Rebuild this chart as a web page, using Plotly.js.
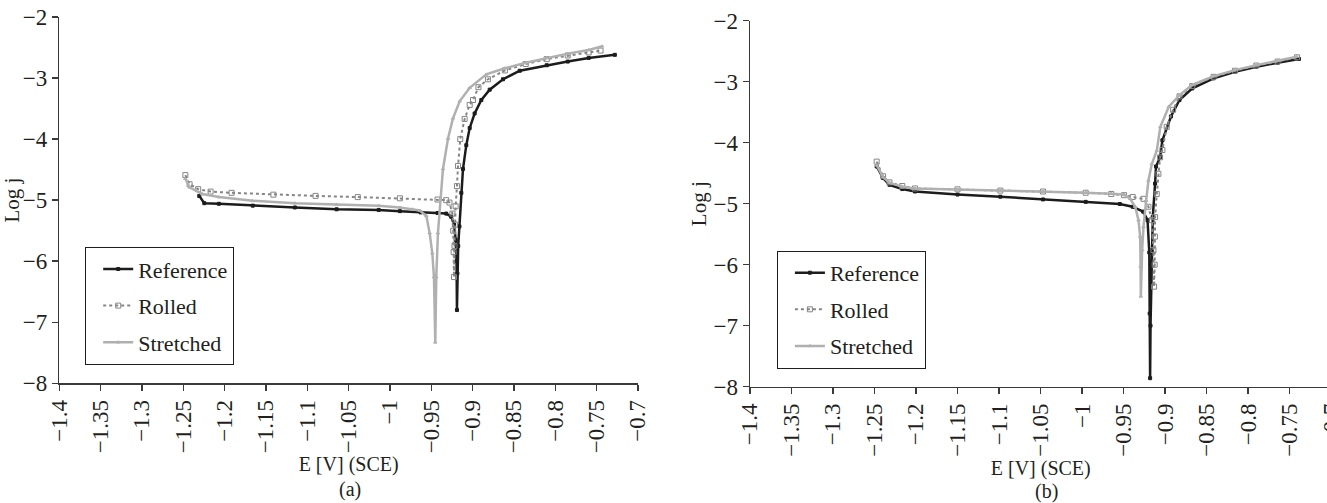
<!DOCTYPE html>
<html>
<head>
<meta charset="utf-8">
<script src="https://cdn.plot.ly/plotly-3.0.1.min.js"></script>
<style>
html, body { margin: 0; padding: 0; overflow: hidden; background: #fff; }
#chart { width: 1332px; height: 503px; }
</style>
</head>
<body>
<div id="chart"></div>
<script>
// ---------- Data (E in V vs SCE, log j) ----------
const seriesNames = ["Reference", "Rolled", "Stretched"];
const xTickTitle = "E [V] (SCE)";
const yTickTitle = "Log j";
const panelLabels = ["(a)", "(b)"];

// Panel (a)
const aRefE = [-1.2307, -1.2246, -1.207, -1.166, -1.115, -1.0645, -1.0137, -0.988, -0.963, -0.9425, -0.932, -0.926, -0.9225, -0.9205, -0.9195, -0.919,
  -0.9185, -0.9175, -0.916, -0.9137, -0.9117, -0.9077, -0.9036, -0.8976, -0.8895, -0.8794, -0.8633, -0.843, -0.8104, -0.785, -0.7596, -0.728];
const aRefJ = [-4.93, -5.05, -5.06, -5.09, -5.12, -5.15, -5.16, -5.18, -5.20, -5.21, -5.22, -5.27, -5.40, -5.65, -6.00, -6.80,
  -6.20, -5.75, -5.43, -4.88, -4.49, -4.10, -3.82, -3.58, -3.36, -3.19, -3.02, -2.88, -2.79, -2.73, -2.67, -2.62];

const aRolE = [-1.2475, -1.2424, -1.232, -1.217, -1.1916, -1.141, -1.09, -1.039, -0.988, -0.9425, -0.932, -0.928, -0.9245, -0.9235, -0.923, -0.9226,
  -0.922, -0.9215, -0.9206, -0.919, -0.9177, -0.915, -0.9097, -0.9036, -0.8996, -0.893, -0.8815, -0.861, -0.8358, -0.8104, -0.785, -0.7596, -0.7453];
const aRolJ = [-4.59, -4.74, -4.82, -4.86, -4.88, -4.91, -4.93, -4.95, -4.97, -4.99, -5.00, -5.04, -5.22, -5.50, -5.85, -6.26,
  -5.75, -5.40, -5.10, -4.77, -4.44, -4.00, -3.67, -3.44, -3.36, -3.15, -3.02, -2.875, -2.77, -2.69, -2.63, -2.58, -2.55];

const aStrE = [-1.2475, -1.2424, -1.227, -1.207, -1.166, -1.115, -1.0645, -1.0137, -0.988, -0.973, -0.964, -0.956, -0.952, -0.9488, -0.9468, -0.9452,
  -0.944, -0.942, -0.9391, -0.9359, -0.9298, -0.9238, -0.9157, -0.9036, -0.8835, -0.861, -0.8358, -0.8104, -0.785, -0.7596, -0.7433];
const aStrJ = [-4.65, -4.79, -4.90, -4.95, -5.01, -5.05, -5.07, -5.09, -5.12, -5.15, -5.17, -5.26, -5.54, -5.87, -6.26, -7.33,
  -6.26, -5.54, -4.99, -4.49, -3.99, -3.66, -3.38, -3.16, -2.94, -2.84, -2.75, -2.67, -2.60, -2.54, -2.48];

// Panel (b)
const bRefE = [-1.2474, -1.2397, -1.232, -1.2166, -1.2012, -1.15, -1.0984, -1.047, -0.9956, -0.9545, -0.939, -0.9263, -0.9211, -0.919, -0.9185, -0.918,
  -0.9175, -0.916, -0.9148, -0.912, -0.9109, -0.906, -0.9032, -0.8929, -0.8826, -0.8672, -0.8415, -0.8158, -0.79, -0.7644, -0.7387];
const bRefJ = [-4.39, -4.58, -4.69, -4.76, -4.80, -4.85, -4.885, -4.93, -4.97, -5.005, -5.05, -5.13, -5.27, -5.80, -6.80, -7.86,
  -7.00, -5.76, -5.22, -4.67, -4.39, -4.24, -3.96, -3.57, -3.30, -3.11, -2.945, -2.836, -2.754, -2.689, -2.628];

const bRolE = [-1.2474, -1.2397, -1.232, -1.2166, -1.2012, -1.15, -1.0984, -1.047, -0.9956, -0.9648, -0.9494, -0.939, -0.926, -0.92, -0.916, -0.914, -0.9132,
  -0.9125, -0.9122, -0.912, -0.91, -0.908, -0.906, -0.9032, -0.898, -0.8903, -0.8826, -0.8672, -0.8415, -0.8158, -0.79, -0.7644, -0.741];
const bRolJ = [-4.31, -4.55, -4.65, -4.71, -4.75, -4.765, -4.785, -4.80, -4.82, -4.84, -4.86, -4.89, -4.92, -5.05, -5.27, -5.76, -6.36,
  -6.00, -5.54, -5.22, -4.84, -4.51, -4.24, -4.12, -3.74, -3.46, -3.24, -3.07, -2.92, -2.82, -2.735, -2.67, -2.60];

const bStrE = [-1.2474, -1.2397, -1.232, -1.2166, -1.2012, -1.15, -1.0984, -1.047, -0.9956, -0.9648, -0.9494, -0.942, -0.936, -0.932, -0.93, -0.9295, -0.9292,
  -0.9276, -0.926, -0.9228, -0.92, -0.916, -0.91, -0.9057, -0.8955, -0.8826, -0.8672, -0.8415, -0.8158, -0.79, -0.7644, -0.7413];
const bStrJ = [-4.37, -4.56, -4.66, -4.72, -4.75, -4.765, -4.785, -4.80, -4.82, -4.835, -4.85, -4.92, -5.05, -5.27, -5.54, -6.03, -6.52,
  -5.76, -5.38, -4.95, -4.62, -4.35, -4.13, -3.74, -3.41, -3.22, -3.05, -2.91, -2.81, -2.73, -2.66, -2.59];

// ---------- Styling ----------
const FONT = "Liberation Serif, Times New Roman, serif";
const TXT = "#231f20";
const AX = "#3a3a3a";
const styles = [
  { color: "#1c1c1c", dash: "solid", symbol: "square", size: 3, width: 2.5 },
  { color: "#858585", dash: "dot", symbol: "square-open", size: 5, width: 2 },
  { color: "#b0b0b0", dash: "solid", symbol: "triangle-up", size: 3, width: 2.5 }
];

function mk(x, y, i, xa, ya, legend) {
  const s = styles[i];
  return {
    type: "scatter", mode: "lines+markers", x: x, y: y,
    name: seriesNames[i], xaxis: xa, yaxis: ya, legend: legend,
    legendgroup: legend + i, showlegend: true,
    line: { color: s.color, dash: s.dash, width: s.width },
    marker: { symbol: s.symbol, size: s.size, color: s.color, line: { color: s.color, width: 1 } }
  };
}

const traces = [
  mk(aRefE, aRefJ, 0, "x", "y", "legend"),
  mk(aRolE, aRolJ, 1, "x", "y", "legend"),
  mk(aStrE, aStrJ, 2, "x", "y", "legend"),
  mk(bRefE, bRefJ, 0, "x2", "y2", "legend2"),
  mk(bRolE, bRolJ, 1, "x2", "y2", "legend2"),
  mk(bStrE, bStrJ, 2, "x2", "y2", "legend2")
];

const W = 1332, H = 503;
function xa(l, r, rmax, title) {
  return {
    domain: [l / W, r / W], range: [-1.4, rmax], tick0: -1.4, dtick: 0.05,
    tickangle: -90, ticks: "outside", ticklen: 6, tickwidth: 1.5, tickcolor: AX,
    ticklabeloverflow: "allow",
    showline: true, linecolor: AX, linewidth: 1.5, showgrid: false, zeroline: false,
    tickfont: { family: FONT, size: 23, color: TXT },
    title: { text: title, font: { family: FONT, size: 20, color: TXT }, standoff: 1 },
    fixedrange: true
  };
}
function ya(t, b, anchor) {
  return {
    domain: [1 - b / H, 1 - t / H], range: [-8, -2], dtick: 1, anchor: anchor,
    ticks: "outside", ticklen: 6, tickwidth: 1.5, tickcolor: AX,
    showline: true, linecolor: AX, linewidth: 1.5, showgrid: false, zeroline: false,
    tickfont: { family: FONT, size: 23, color: TXT },
    title: { text: yTickTitle, font: { family: FONT, size: 21, color: TXT }, standoff: 1 },
    fixedrange: true
  };
}

const legendBase = {
  xanchor: "left", yanchor: "top", orientation: "v",
  bgcolor: "#ffffff", bordercolor: "#1e1e1e", borderwidth: 1.2,
  font: { family: FONT, size: 22, color: TXT },
  tracegroupgap: 5, itemwidth: 30, indentation: 12
};

const layout = {
  width: W, height: H,
  margin: { l: 0, r: 0, t: 0, b: 0, autoexpand: false },
  paper_bgcolor: "#ffffff", plot_bgcolor: "#ffffff",
  showlegend: true,
  xaxis: Object.assign(xa(59.3, 638, -0.7, xTickTitle), { anchor: "y" }),
  yaxis: ya(17, 383.3, "x"),
  xaxis2: Object.assign(xa(750, 1331.5, -0.6995, xTickTitle), { anchor: "y2" }),
  yaxis2: ya(20.7, 386.7, "x2"),
  legend: Object.assign({}, legendBase, { x: 85 / W, y: 1 - 247 / H }),
  legend2: Object.assign({}, legendBase, { x: 776.7 / W, y: 1 - 250.7 / H }),
  annotations: [
    { text: panelLabels[0], xref: "paper", yref: "paper", x: 350 / W, y: 1 - 489 / H, showarrow: false,
      xanchor: "center", yanchor: "middle", font: { family: FONT, size: 20, color: TXT } },
    { text: panelLabels[1], xref: "paper", yref: "paper", x: 1046 / W, y: 1 - 491 / H, showarrow: false,
      xanchor: "center", yanchor: "middle", font: { family: FONT, size: 20, color: TXT } }
  ]
};

Plotly.newPlot("chart", traces, layout, { staticPlot: true, displayModeBar: false });
</script>
</body>
</html>
